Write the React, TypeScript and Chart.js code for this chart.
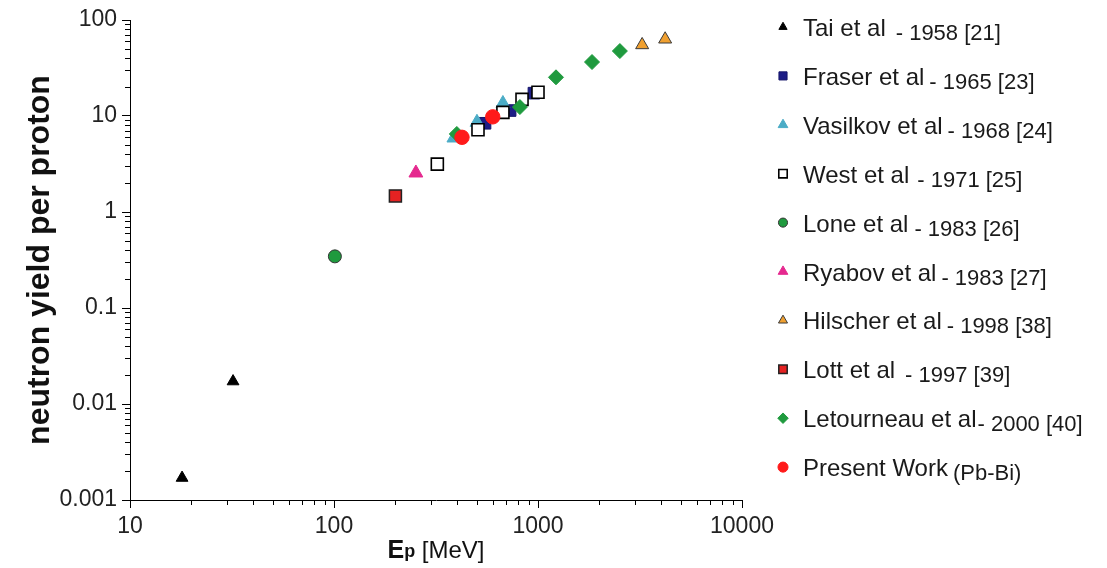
import React, { useEffect, useRef } from 'react';
import { Chart, registerables } from 'chart.js';

Chart.register(...registerables);

// ---------- data ----------
const seriesNames = [
  'Tai et al',
  'Fraser et al',
  'Vasilkov et al',
  'West et al',
  'Lone et al',
  'Ryabov et al',
  'Hilscher et al',
  'Lott et al',
  'Letourneau et al',
  'Present Work',
];
const seriesRefs = [
  '- 1958 [21]',
  '- 1965 [23]',
  '- 1968 [24]',
  '- 1971 [25]',
  '- 1983 [26]',
  '- 1983 [27]',
  '- 1998 [38]',
  '- 1997 [39]',
  '- 2000 [40]',
  '(Pb-Bi)',
];

const taiE = [18, 32];
const taiY = [0.0017, 0.0172];
const fraserE = [550, 730, 955];
const fraserY = [8.4, 11.4, 17.3];
const vasilkovE = [387, 502, 673];
const vasilkovY = [5.9, 8.6, 13.5];
const westE = [321, 508, 673, 835, 1000];
const westY = [3.15, 7.2, 10.9, 14.9, 17.7];
const loneE = [101];
const loneY = [0.345];
const ryabovE = [252];
const ryabovY = [2.55];
const hilscherE = [3240, 4200];
const hilscherY = [55, 63];
const lottE = [200];
const lottY = [1.47];
const letourneauE = [400, 815, 1225, 1840, 2520];
const letourneauY = [6.5, 12.4, 25.3, 36.5, 47.5];
const presentE = [424, 600];
const presentY = [6.0, 9.8];

const xTickValues = [10, 100, 1000, 10000];
const yTickValues = [0.001, 0.01, 0.1, 1, 10, 100];

// ---------- styles ----------
const FONT = "'Liberation Sans', Arial, sans-serif";
const styles = [
  { shape: 'triangle', r: 6.8, bg: '#000000', bd: '#000000', bw: 1, gap: 10 },
  { shape: 'rect', r: 8.2, bg: '#1d1d86', bd: '#16166a', bw: 1, gap: 5 },
  { shape: 'triangle', r: 8, bg: '#4bacc6', bd: '#4bacc6', bw: 1, gap: 5 },
  { shape: 'rect', r: 8.5, bg: '#ffffff', bd: '#000000', bw: 1.6, gap: 8 },
  { shape: 'circle', r: 6.5, bg: '#1f9a3e', bd: '#333333', bw: 1, gap: 6 },
  { shape: 'triangle', r: 8, bg: '#e5298f', bd: '#e5298f', bw: 1, gap: 5 },
  { shape: 'triangle', r: 7.5, bg: '#f0a030', bd: '#3a3a3a', bw: 1, gap: 5 },
  { shape: 'rect', r: 8.5, bg: '#e52222', bd: '#222222', bw: 1.5, gap: 10 },
  { shape: 'rectRot', r: 7.5, bg: '#1f9a3e', bd: '#1f9a3e', bw: 1, gap: 1 },
  { shape: 'circle', r: 7.2, bg: '#ff1a1a', bd: '#ff1a1a', bw: 1, gap: 5 },
];

const seriesX = [taiE, fraserE, vasilkovE, westE, loneE, ryabovE, hilscherE, lottE, letourneauE, presentE];
const seriesY = [taiY, fraserY, vasilkovY, westY, loneY, ryabovY, hilscherY, lottY, letourneauY, presentY];

function drawMarker(ctx: CanvasRenderingContext2D, s: any, x: number, y: number, r: number) {
  ctx.save();
  ctx.fillStyle = s.bg;
  ctx.strokeStyle = s.bd;
  ctx.lineWidth = s.bw;
  ctx.beginPath();
  if (s.shape === 'circle') {
    ctx.arc(x, y, r, 0, Math.PI * 2);
  } else if (s.shape === 'rect') {
    const h = r / Math.SQRT2;
    ctx.rect(x - h, y - h, 2 * h, 2 * h);
  } else if (s.shape === 'rectRot') {
    ctx.moveTo(x, y - r);
    ctx.lineTo(x + r, y);
    ctx.lineTo(x, y + r);
    ctx.lineTo(x - r, y);
    ctx.closePath();
  } else {
    const a = (Math.PI * 2) / 3;
    ctx.moveTo(x, y - r);
    ctx.lineTo(x + Math.sin(a) * r, y - Math.cos(a) * r);
    ctx.lineTo(x + Math.sin(2 * a) * r, y - Math.cos(2 * a) * r);
    ctx.closePath();
  }
  ctx.fill();
  ctx.stroke();
  ctx.restore();
}

const decorPlugin = {
  id: 'decor',
  afterDraw(chart: any) {
    const ctx: CanvasRenderingContext2D = chart.ctx;
    const xs = chart.scales.x;
    const ys = chart.scales.y;
    const area = chart.chartArea;
    ctx.save();
    ctx.strokeStyle = '#000';
    ctx.lineWidth = 1;
    // minor ticks
    for (let d = xTickValues[0]; d < xTickValues[xTickValues.length - 1] * 0.99; d *= 10) {
      for (let m = 2; m <= 9; m++) {
        const px = Math.round(xs.getPixelForValue(d * m)) + 0.5;
        ctx.beginPath();
        ctx.moveTo(px, area.bottom);
        ctx.lineTo(px, area.bottom + 5);
        ctx.stroke();
      }
    }
    for (let d = yTickValues[0]; d < yTickValues[yTickValues.length - 1] * 0.99; d *= 10) {
      for (let m = 2; m <= 9; m++) {
        const py = Math.round(ys.getPixelForValue(d * m)) + 0.5;
        ctx.beginPath();
        ctx.moveTo(area.left, py);
        ctx.lineTo(area.left - 5, py);
        ctx.stroke();
      }
    }

    // y title
    ctx.fillStyle = '#111';
    ctx.save();
    ctx.translate(40, (area.top + area.bottom) / 2);
    ctx.rotate(-Math.PI / 2);
    ctx.font = `bold 32px ${FONT}`;
    ctx.textAlign = 'center';
    ctx.textBaseline = 'middle';
    ctx.fillText('neutron yield per proton', 0, 0);
    ctx.restore();

    // x title: E_p [MeV]
    const cx = (area.left + area.right) / 2;
    const base = 558;
    ctx.textBaseline = 'alphabetic';
    ctx.textAlign = 'left';
    ctx.font = `bold 25px ${FONT}`;
    const wE = ctx.measureText('E').width;
    ctx.font = `bold 18px ${FONT}`;
    const wP = ctx.measureText('p').width;
    ctx.font = `24px ${FONT}`;
    const wM = ctx.measureText(' [MeV]').width;
    let x0 = cx - (wE + wP + wM) / 2;
    ctx.font = `bold 25px ${FONT}`;
    ctx.fillText('E', x0, base);
    x0 += wE;
    ctx.font = `bold 18px ${FONT}`;
    ctx.fillText('p', x0, base - 1);
    x0 += wP;
    ctx.font = `24px ${FONT}`;
    ctx.fillText(' [MeV]', x0, base);

    // legend
    const rowTop = 28;
    const rowStep = 48.9;
    for (let i = 0; i < seriesNames.length; i++) {
      const cy = rowTop + rowStep * i;
      drawMarker(ctx, styles[i], 783, cy - 1, styles[i].r * 0.7);
      ctx.fillStyle = '#1a1a1a';
      ctx.font = `24px ${FONT}`;
      ctx.fillText(seriesNames[i], 803, cy + 8);
      const wn = ctx.measureText(seriesNames[i]).width;
      ctx.font = `22px ${FONT}`;
      ctx.fillText(seriesRefs[i], 803 + wn + styles[i].gap, cy + 12);
    }
    ctx.restore();
  },
};

export default function App() {
  const ref = useRef<HTMLCanvasElement | null>(null);
  useEffect(() => {
    if (!ref.current) return;
    const n = seriesNames.length;
    const datasets = seriesNames.map((name, i) => ({
      label: name,
      data: seriesX[i].map((x, j) => ({ x, y: seriesY[i][j] })),
      pointStyle: styles[i].shape,
      pointRadius: styles[i].r,
      backgroundColor: styles[i].bg,
      borderColor: styles[i].bd,
      borderWidth: styles[i].bw,
      showLine: false,
      order: n - i,
    }));
    const chart = new Chart(ref.current, {
      type: 'scatter',
      data: { datasets },
      plugins: [decorPlugin],
      options: {
        animation: false,
        responsive: false,
        devicePixelRatio: 1,
        events: [],
        layout: { padding: { left: 0, top: 20, right: 365, bottom: 0 } },
        plugins: { legend: { display: false }, tooltip: { enabled: false }, title: { display: false } },
        scales: {
          x: {
            type: 'logarithmic',
            min: 10,
            max: 10000,
            afterFit: (s: any) => {
              s.height = 68;
            },
            afterBuildTicks: (s: any) => {
              s.ticks = xTickValues.map((v) => ({ value: v, major: true }));
            },
            grid: { display: true, drawOnChartArea: false, drawTicks: true, tickLength: 8, color: '#000', lineWidth: 1 },
            border: { display: true, color: '#000', width: 1 },
            ticks: {
              autoSkip: false,
              maxRotation: 0,
              padding: 5,
              color: '#222',
              font: { family: FONT, size: 23 },
              callback: (v: any) => String(v),
            },
          },
          y: {
            type: 'logarithmic',
            min: 0.001,
            max: 100,
            afterFit: (s: any) => {
              s.width = 130;
            },
            afterBuildTicks: (s: any) => {
              s.ticks = yTickValues.map((v) => ({ value: v, major: true }));
            },
            grid: { display: true, drawOnChartArea: false, drawTicks: true, tickLength: 8, color: '#000', lineWidth: 1 },
            border: { display: true, color: '#000', width: 1 },
            ticks: {
              autoSkip: false,
              padding: 5,
              color: '#222',
              font: { family: FONT, size: 23 },
              callback: (v: any) => String(v),
            },
          },
        },
      } as any,
    });
    return () => chart.destroy();
  }, []);
  return (
    <div style={{ position: 'absolute', left: 0, top: 0, width: 1107, height: 568, background: '#fff' }}>
      <canvas ref={ref} width={1107} height={568} />
    </div>
  );
}
